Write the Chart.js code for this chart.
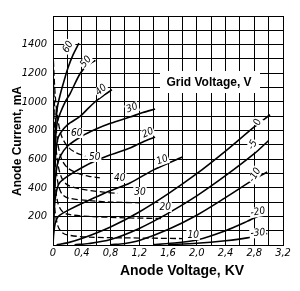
<!DOCTYPE html>
<html>
<head>
<meta charset="utf-8">
<script src="https://cdn.jsdelivr.net/npm/chart.js@4"></script>
<style>
  html, body { margin: 0; padding: 0; background: #fff; }
</style>
</head>
<body>
<canvas id="myChart" width="300" height="291"></canvas>
<script>
// tick labels
const xTickLabels = ["0", "0,4", "0,8", "1,2", "1,6", "2,0", "2,4", "2,8", "3,2"];
const yTickLabels = ["", "200", "400", "600", "800", "1000", "1200", "1400", ""];

// anode current (mA) vs anode voltage (kV), one list per grid voltage
const anode60 = [[0, 0], [0.01, 400], [0.03, 800], [0.06, 960], [0.1, 1050], [0.15, 1140], [0.21, 1240], [0.28, 1330], [0.36, 1410]];
const anode50 = [[0, 0], [0.01, 350], [0.03, 700], [0.06, 860], [0.1, 920], [0.17, 1000], [0.24, 1060], [0.38, 1200], [0.48, 1255], [0.59, 1290]];
const anode40 = [[0, 0], [0.01, 300], [0.03, 580], [0.06, 730], [0.1, 780], [0.2, 840], [0.38, 900], [0.5, 960], [0.61, 1010], [0.72, 1050], [0.82, 1085]];
const anode30 = [[0, 0], [0.01, 250], [0.03, 450], [0.06, 560], [0.1, 620], [0.2, 690], [0.4, 760], [0.6, 810], [0.8, 850], [1.07, 894], [1.25, 925], [1.42, 950]];
const anode20 = [[0, 0], [0.01, 180], [0.03, 320], [0.06, 400], [0.1, 440], [0.2, 480], [0.4, 540], [0.6, 590], [0.8, 630], [1.07, 678], [1.25, 720], [1.42, 755]];
const anode10 = [[0, 0], [0.01, 80], [0.03, 150], [0.06, 190], [0.1, 210], [0.2, 240], [0.4, 290], [0.6, 335], [0.8, 380], [1.07, 433], [1.4, 525], [1.8, 615]];
const anode0 = [[0.05, 2], [0.2, 15], [0.4, 45], [0.8, 126], [1.2, 231], [1.6, 357], [2.0, 498], [2.4, 656], [2.8, 825], [3.02, 910]];
const anodeM5 = [[0.3, 2], [0.5, 10], [0.8, 38], [1.2, 116], [1.6, 221], [2.0, 343], [2.4, 484], [2.8, 638], [3.0, 730]];
const anodeM10 = [[0.8, 2], [1.0, 10], [1.2, 31], [1.6, 108], [2.0, 208], [2.4, 331], [2.8, 460], [2.98, 510]];
const anodeM20 = [[1.4, 3], [1.6, 10], [2.0, 35], [2.4, 100], [2.7, 165], [2.95, 225]];
const anodeM30 = [[1.6, 3], [2.0, 12], [2.4, 30], [2.7, 50], [2.98, 80]];

// grid current (mA) vs anode voltage (kV)
const grid60 = [[0, 1350], [0.03, 1050], [0.07, 870], [0.12, 760], [0.2, 690], [0.3, 650], [0.45, 620]];
const grid50 = [[0, 1200], [0.03, 900], [0.07, 700], [0.12, 600], [0.2, 540], [0.35, 500], [0.5, 480], [0.65, 470]];
const grid40 = [[0, 1050], [0.03, 750], [0.07, 560], [0.12, 470], [0.2, 420], [0.4, 390], [0.7, 370], [0.9, 360]];
const grid30 = [[0, 900], [0.03, 600], [0.07, 430], [0.12, 360], [0.2, 330], [0.5, 310], [0.8, 300], [1.2, 295]];
const grid20 = [[0, 700], [0.03, 420], [0.07, 290], [0.12, 240], [0.2, 215], [0.5, 200], [1.0, 190], [1.5, 185]];
const grid10 = [[0, 450], [0.03, 230], [0.07, 130], [0.12, 90], [0.2, 70], [0.5, 55], [1.0, 50], [1.8, 45]];

// curve labels: text, anode voltage, current, angle
const curveLabels = [
  ["60", 0.21, 1383, -60], ["50", 0.46, 1279, -50], ["40", 0.67, 1083, -40],
  ["30", 1.1, 957, -20], ["20", 1.32, 783, -25], ["10", 1.52, 594, -20],
  ["0", 2.85, 859, -70], ["-5", 2.78, 699, -60], ["-10", 2.81, 489, -60],
  ["-20", 2.85, 231, -10], ["-30", 2.85, 84, -5],
  ["60", 0.33, 782, 0], ["50", 0.58, 615, 0], ["40", 0.93, 468, 0],
  ["30", 1.21, 370, 0], ["20", 1.56, 265, 0], ["10", 1.95, 70, 0]
];

const toPts = (arr) => arr.map(([x, y]) => ({ x, y }));
const solid = [anode60, anode50, anode40, anode30, anode20, anode10, anode0, anodeM5, anodeM10, anodeM20, anodeM30];
const dashed = [grid60, grid50, grid40, grid30, grid20, grid10];

const datasets = solid.map((d) => ({
  data: toPts(d), showLine: true, borderColor: "#000", borderWidth: 1.6,
  pointRadius: 0, tension: 0.3, fill: false
})).concat(dashed.map((d) => ({
  data: toPts(d), showLine: true, borderColor: "#000", borderWidth: 1.3,
  borderDash: [6, 3], pointRadius: 0, tension: 0.3, fill: false
})));

const tickFont = { family: "'Liberation Sans Narrow', 'DejaVu Sans Condensed', Arial, sans-serif", size: 11, style: "italic" };

const overlay = {
  id: "overlay",
  afterDraw(chart) {
    const { ctx, scales: { x, y } } = chart;
    ctx.save();
    // legend-like box
    ctx.fillStyle = "#fff";
    ctx.fillRect(160, 71, 100, 22);
    ctx.fillStyle = "#000";
    ctx.font = "bold 12px 'Liberation Sans', Arial, sans-serif";
    ctx.textAlign = "center";
    ctx.textBaseline = "middle";
    ctx.fillText("Grid Voltage, V", 209, 83);

    ctx.font = "italic 10px 'Liberation Sans Narrow', 'DejaVu Sans Condensed', Arial, sans-serif";
    curveLabels.forEach(([t, vx, vy, a]) => {
      const px = x.getPixelForValue(vx);
      const py = y.getPixelForValue(vy);
      ctx.save();
      ctx.translate(px, py);
      ctx.rotate(a * Math.PI / 180);
      const w = ctx.measureText(t).width;
      ctx.fillStyle = "#fff";
      ctx.fillRect(-w / 2 - 1, -5, w + 2, 10);
      ctx.fillStyle = "#000";
      ctx.fillText(t, 0, 0);
      ctx.restore();
    });

    // axis titles
    ctx.font = "bold 14px 'Liberation Sans', Arial, sans-serif";
    ctx.fillText("Anode Voltage, KV", 182, 271);
    ctx.translate(18, 141);
    ctx.rotate(-Math.PI / 2);
    ctx.font = "bold 12px 'Liberation Sans', Arial, sans-serif";
    ctx.fillText("Anode Current, mA", 0, 0);
    ctx.restore();
  }
};

new Chart(document.getElementById("myChart"), {
  type: "scatter",
  data: { datasets },
  options: {
    responsive: false,
    animation: false,
    layout: { padding: { top: 16, right: 17, left: 0, bottom: 0 } },
    plugins: { legend: { display: false }, tooltip: { enabled: false } },
    scales: {
      x: {
        type: "linear", min: 0, max: 3.2,
        afterFit: (s) => { s.height = 46; },
        grid: { color: "#000", lineWidth: 1, drawTicks: false },
        border: { color: "#000", width: 1 },
        ticks: {
          stepSize: 0.2, autoSkip: false, maxRotation: 0, padding: 2,
          color: "#000", font: tickFont,
          callback: (v) => {
            const i = Math.round(v / 0.2);
            return i % 2 === 0 ? xTickLabels[i / 2] : "";
          }
        }
      },
      y: {
        type: "linear", min: 0, max: 1600,
        afterFit: (s) => { s.width = 53; },
        grid: { color: "#000", lineWidth: 1, drawTicks: false },
        border: { color: "#000", width: 1 },
        ticks: {
          stepSize: 100, autoSkip: false, padding: 6,
          color: "#000", font: tickFont,
          callback: (v) => {
            const i = Math.round(v / 100);
            return i % 2 === 0 ? yTickLabels[i / 2] : "";
          }
        }
      }
    }
  },
  plugins: [overlay]
});
</script>
</body>
</html>
